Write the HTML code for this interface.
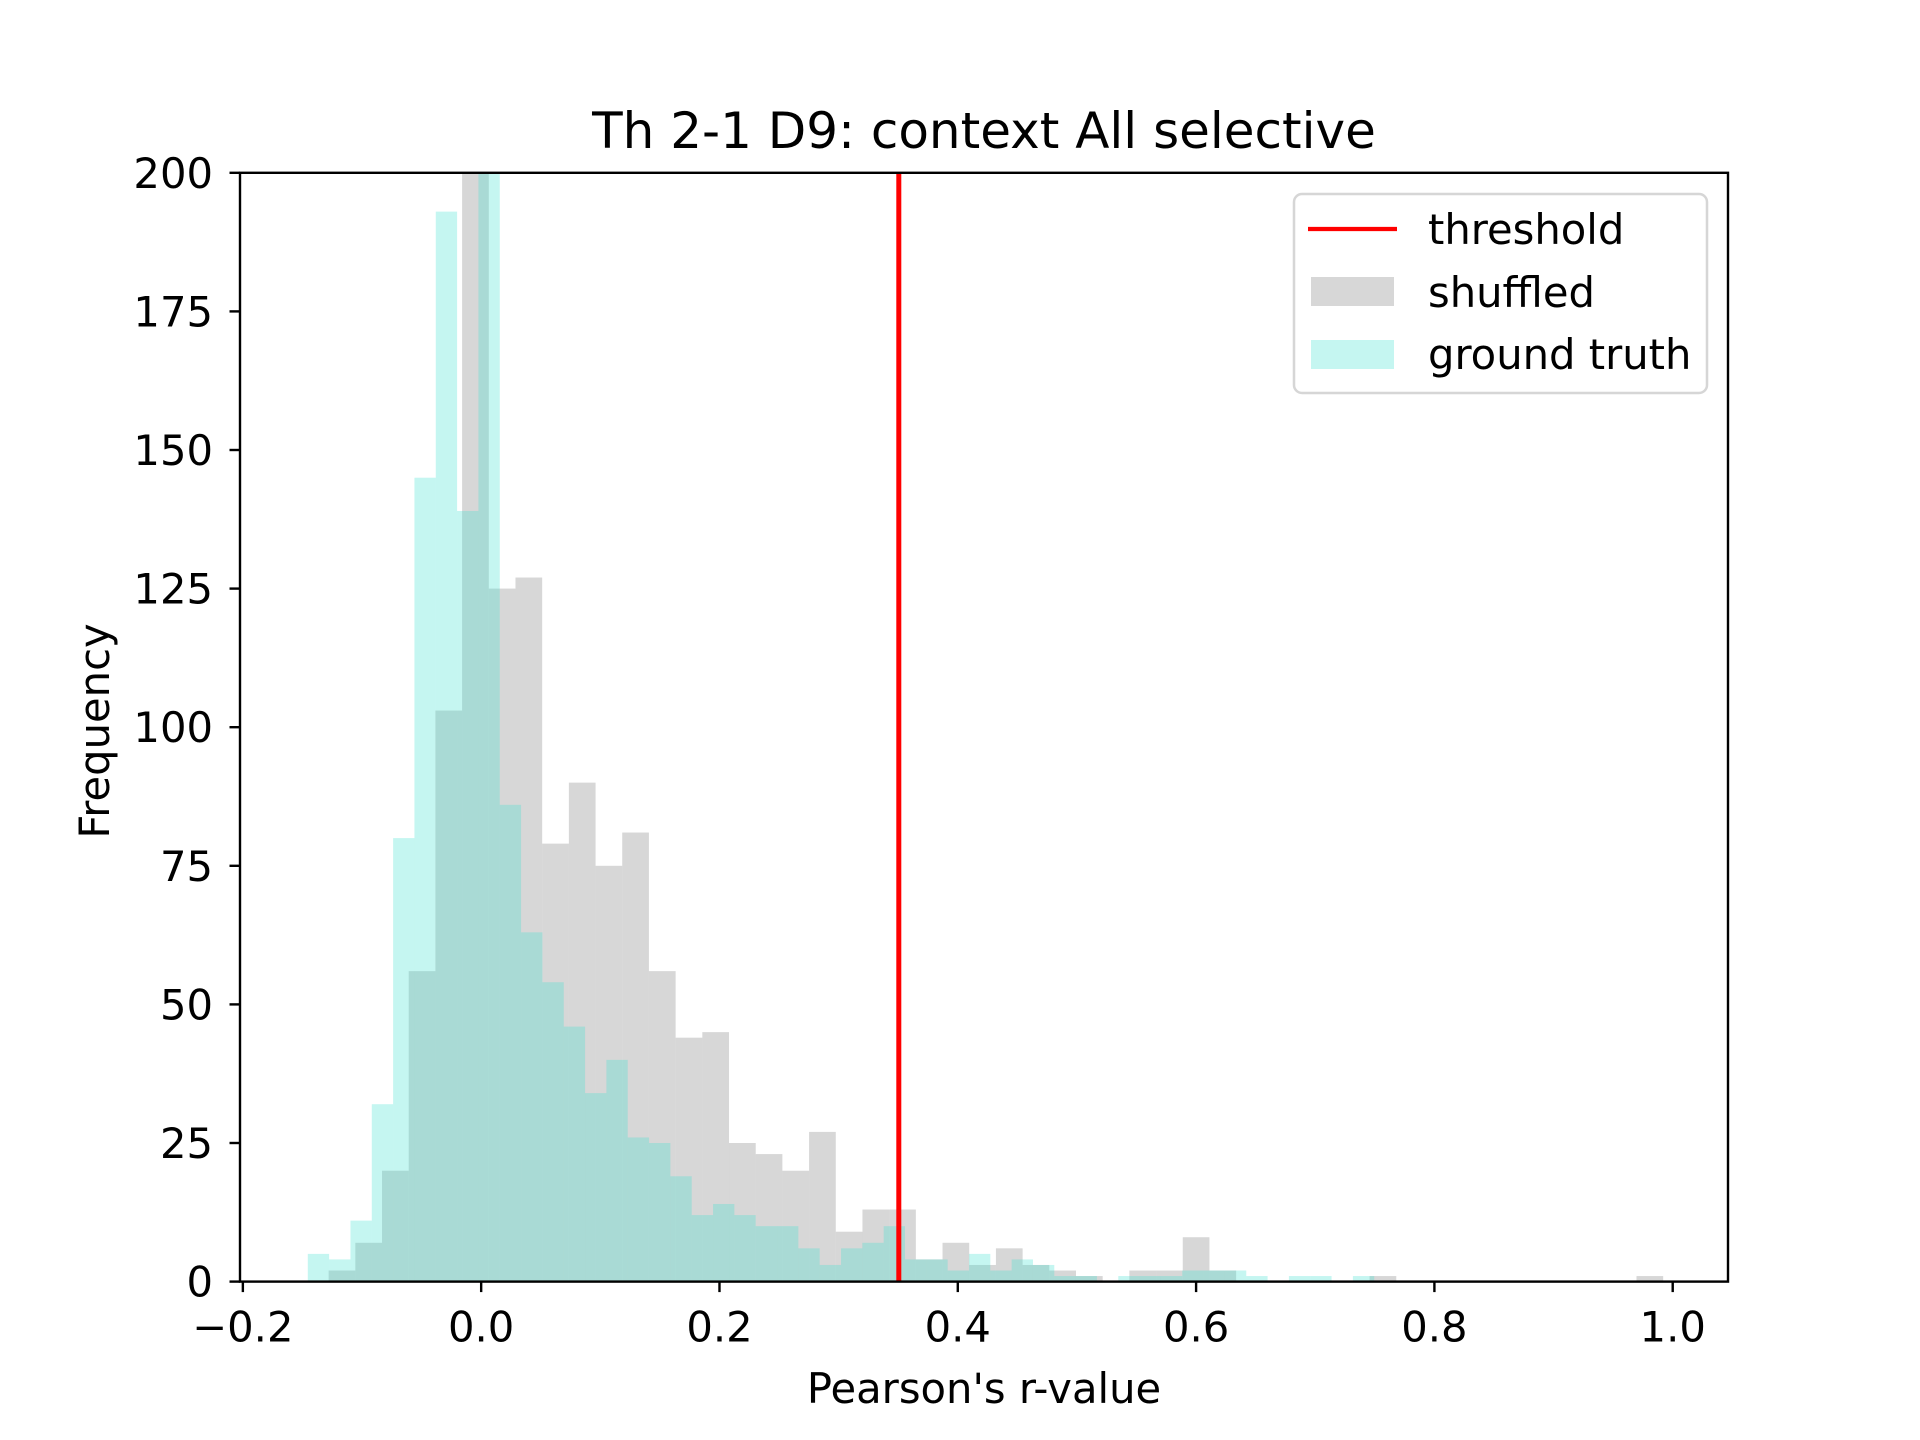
<!DOCTYPE html>
<html><head><meta charset="utf-8"><style>html,body{margin:0;padding:0;background:#fff}svg{display:block}text{font-family:"DejaVu Sans","Liberation Sans",sans-serif;fill:#000}</style></head>
<body>
<svg id="chart" width="1920" height="1440" viewBox="0 0 1920 1440" xmlns="http://www.w3.org/2000/svg">
<rect width="1920" height="1440" fill="#fff"/>
<g id="bars"></g>
<g id="axes"></g>
</svg>
<script>
const shuffledStart = -0.128;
const shuffledWidth = 0.0224;
const shuffledCounts = [2,7,20,56,103,215,125,127,79,90,75,81,56,44,45,25,23,20,27,9,13,13,4,7,3,6,3,2,1,0,2,2,8,2,0,0,0,0,0,1,0,0,0,0,0,0,0,0,0,1];
const truthStart = -0.1455;
const truthWidth = 0.0179;
const truthCounts = [5,4,11,32,80,145,193,139,230,86,63,54,46,34,40,26,25,19,12,14,12,10,10,6,3,6,7,10,4,4,2,5,2,4,3,1,1,0,1,1,1,2,2,2,1,0,1,1,0,1];
const thresholdValue = [0.3505];
const xTicks = [-0.2,0.0,0.2,0.4,0.6,0.8,1.0];
const xTickLabels = ["\u22120.2","0.0","0.2","0.4","0.6","0.8","1.0"];
const yTicks = [0,25,50,75,100,125,150,175,200];

const L=240,R=1728,T=172.8,B=1281.6;
const xMin=-0.2024,xMax=1.0464,yMax=200;
const X=v=>L+(v-xMin)/(xMax-xMin)*(R-L);
const Y=v=>B-Math.min(v,yMax)/yMax*(B-T);
const NS='http://www.w3.org/2000/svg';
function mk(tag,attrs,parent){const e=document.createElementNS(NS,tag);for(const k in attrs)e.setAttribute(k,attrs[k]);parent.appendChild(e);return e;}
const bars=document.getElementById('bars'),axes=document.getElementById('axes');

shuffledCounts.forEach((c,i)=>{if(!c)return;
 const x0=X(shuffledStart+i*shuffledWidth),x1=X(shuffledStart+(i+1)*shuffledWidth);
 const r=mk('rect',{x:x0,y:Y(c),width:x1-x0,height:B-Y(c),fill:'rgb(176,176,176)','fill-opacity':0.5},bars);
 
 
});
truthCounts.forEach((c,i)=>{if(!c)return;
 const x0=X(truthStart+i*truthWidth),x1=X(truthStart+(i+1)*truthWidth);
 const r=mk('rect',{x:x0,y:Y(c),width:x1-x0,height:B-Y(c),fill:'rgb(64,224,208)','fill-opacity':0.3},bars);
 
 
});
const th=mk('line',{x1:X(thresholdValue[0]),x2:X(thresholdValue[0]),y1:T,y2:B,stroke:'#ff0000','stroke-width':5},bars);



const frame=mk('rect',{x:L,y:T,width:R-L,height:B-T,fill:'none',stroke:'#000','stroke-width':2.4},axes);



xTicks.forEach((v,i)=>{const x=X(v);
 mk('line',{x1:x,x2:x,y1:B,y2:B+10.5,stroke:'#000','stroke-width':2.4},axes);
 const t=mk('text',{x:x,y:B+60,'text-anchor':'middle','font-size':41.7},axes);t.textContent=xTickLabels[i];
 
 
});
yTicks.forEach(v=>{const y=Y(v);
 mk('line',{x1:L-10.5,x2:L,y1:y,y2:y,stroke:'#000','stroke-width':2.4},axes);
 const t=mk('text',{x:L-27,y:y+15,'text-anchor':'end','font-size':41.7},axes);t.textContent=String(v);
 
 
});
</script>
<svg style="position:absolute;left:0;top:0" width="1920" height="1440" viewBox="0 0 1920 1440" xmlns="http://www.w3.org/2000/svg">
<text x="984" y="148" text-anchor="middle" font-size="50">Th 2-1 D9: context All selective</text>
<text x="984" y="1403" text-anchor="middle" font-size="41.7">Pearson's r-value</text>
<text transform="translate(109,731) rotate(-90)" text-anchor="middle" font-size="41.7">Frequency</text>
<g>
<rect x="1294" y="194" width="413" height="199" rx="8" fill="#fff" fill-opacity="0.8" stroke="#d6d6d6" stroke-width="2.5"/>
<line x1="1308" y1="229" x2="1397" y2="229" stroke="#ff0000" stroke-width="4.2"/>
<rect x="1311" y="277" width="83" height="29" fill="rgb(176,176,176)" fill-opacity="0.5"/>
<rect x="1311" y="340" width="83" height="29" fill="rgb(64,224,208)" fill-opacity="0.3"/>
<text x="1428" y="244" font-size="41.7">threshold</text>
<text x="1428" y="307" font-size="41.7">shuffled</text>
<text x="1428" y="369" font-size="41.7">ground truth</text>
</g>
</svg>
</body></html>
